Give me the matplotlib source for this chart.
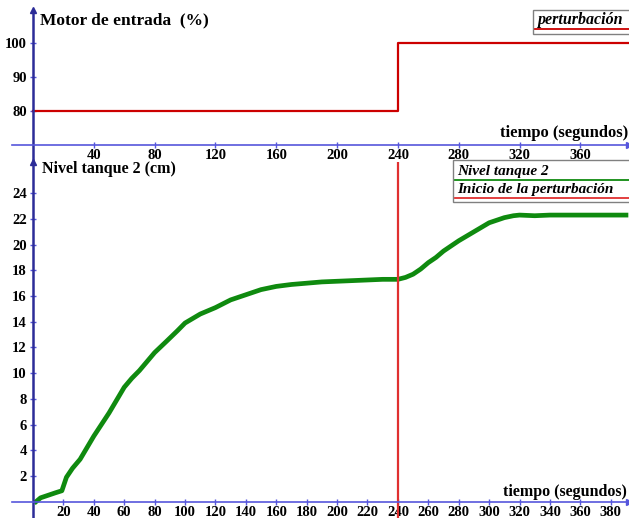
import numpy as np
import matplotlib
matplotlib.use("Agg")
import matplotlib.pyplot as plt
from matplotlib.patches import Rectangle
from matplotlib.lines import Line2D

plt.rcParams['font.family'] = ['Liberation Serif', 'DejaVu Serif']
plt.rcParams['font.weight'] = 'bold'

# motor input step (%)
motor_t = [0, 240, 240, 392]
motor_v = [80, 80, 100, 100]

# tank 2 level (cm)
nivel_t = [2, 5, 10, 15, 19, 22, 26, 31, 35, 40, 45, 50, 55, 60, 65, 70, 75, 80,
           88, 95, 100, 110, 120, 130, 140, 150, 160, 170, 180, 190, 200, 210,
           220, 230, 240, 245, 250, 255, 260, 265, 270, 280, 290, 300, 310, 316,
           320, 330, 340, 350, 360, 370, 380, 390]
nivel_v = [0.0, 0.3, 0.5, 0.7, 0.85, 1.9, 2.6, 3.3, 4.1, 5.1, 6.0, 6.9, 7.9, 8.9,
           9.6, 10.2, 10.9, 11.6, 12.5, 13.3, 13.9, 14.6, 15.1, 15.7, 16.1, 16.5,
           16.75, 16.9, 17.0, 17.1, 17.15, 17.2, 17.25, 17.3, 17.3, 17.45, 17.7,
           18.1, 18.6, 19.0, 19.5, 20.3, 21.0, 21.7, 22.1, 22.25, 22.3, 22.25,
           22.3, 22.3, 22.3, 22.3, 22.3, 22.3]
t_perturb = 240

top_xticks = [40, 80, 120, 160, 200, 240, 280, 320, 360]
top_yticks = [80, 90, 100]
bot_xticks = list(range(20, 381, 20))
bot_yticks = list(range(2, 25, 2))

W, H = 629, 518
fig = plt.figure(figsize=(W / 100, H / 100), dpi=100)

def px(x, y):
    return x / W, 1 - y / H

YAX = '#2c2c98'
XAX = '#5656dc'

def style(ax, y0):
    for s in ['top', 'right']:
        ax.spines[s].set_visible(False)
    ax.spines['left'].set_position(('data', 0))
    ax.spines['bottom'].set_position(('data', y0))
    ax.spines['left'].set_color(YAX)
    ax.spines['left'].set_linewidth(1.8)
    ax.spines['bottom'].set_color(XAX)
    ax.spines['bottom'].set_linewidth(1.2)
    ax.tick_params(axis='both', direction='inout', length=5, width=1,
                   color=XAX, labelsize=10.5, pad=0.5)
    ax.tick_params(axis='y', pad=2)
    for lab in ax.get_xticklabels() + ax.get_yticklabels():
        lab.set_fontweight('bold')
    ax.plot(0, 1, marker='^', color=YAX, markersize=5,
            transform=ax.get_xaxis_transform(), clip_on=False)
    ax.plot(1, y0, marker='>', color=XAX, markersize=5,
            transform=ax.get_yaxis_transform(), clip_on=False)

# top panel
x0, y0t = px(12, 160)
x1, y1t = px(629, 10)
ax1 = fig.add_axes([x0, y0t, x1 - x0, y1t - y0t])
ax1.plot(motor_t, motor_v, color='#cc0000', lw=1.6)
ax1.set_xlim(-13.8, 392)
ax1.set_ylim(65.6, 109.7)
ax1.set_xticks(top_xticks)
ax1.set_yticks(top_yticks)
style(ax1, 70)

# bottom panel
x0, y0b = px(12, 518)
x1, y1b = px(629, 162)
ax2 = fig.add_axes([x0, y0b, x1 - x0, y1b - y0b])
ax2.plot(nivel_t, nivel_v, color='#0f8a0f', lw=3.4, solid_joinstyle='round')
ax2.axvline(t_perturb, color='#e03030', lw=1.6)
ax2.set_xlim(-13.8, 392)
ax2.set_ylim(-1.27, 26.43)
ax2.set_xticks(bot_xticks)
ax2.set_yticks(bot_yticks)
style(ax2, 0)

# axis titles
fs = 12.5
fig.text(*px(40, 20), 'Motor de entrada  (%)', fontsize=fs, fontweight='bold',
         ha='left', va='center')
fig.text(*px(628, 133), 'tiempo (segundos)', fontsize=12, fontweight='bold',
         ha='right', va='center')
fig.text(*px(42, 169), 'Nivel tanque 2 (cm)', fontsize=11.5, fontweight='bold',
         ha='left', va='center')
fig.text(*px(627, 492), 'tiempo (segundos)', fontsize=11.5, fontweight='bold',
         ha='right', va='center')

# legends
def box(xa, ya, xb, yb):
    xl, yl = px(xa, yb)
    xr, yr = px(xb, ya)
    fig.patches.append(Rectangle((xl, yl), xr - xl, yr - yl, transform=fig.transFigure,
                                 facecolor='white', edgecolor='#808080', lw=1.0))

def entry(xa, ytext, yline, label, color, size):
    fig.text(*px(xa, ytext), label, fontsize=size, fontweight='bold', style='italic',
             ha='left', va='center')
    xl, yl = px(xa - 2, yline)
    xr, _ = px(640, yline)
    fig.lines.append(Line2D([xl, xr], [yl, yl], transform=fig.transFigure,
                            color=color, lw=1.3))

box(533, 10, 640, 34)
entry(537, 20, 29, 'perturbación', '#cc0000', 11.5)

box(453, 160, 640, 202)
entry(457, 171, 180, 'Nivel tanque 2', '#0f8a0f', 11)
entry(457, 189, 198, 'Inicio de la perturbación', '#e03030', 11)

fig.savefig('out.png', dpi=100)
